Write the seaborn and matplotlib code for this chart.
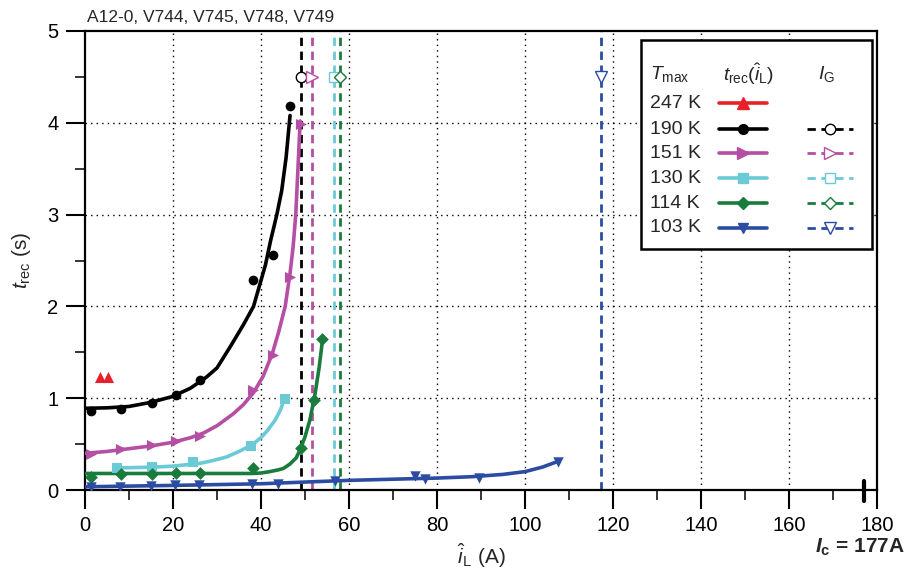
import numpy as np
import pandas as pd
import matplotlib
matplotlib.use("Agg")
import matplotlib.pyplot as plt
import matplotlib.transforms as mtransforms
from matplotlib.patches import Rectangle
from matplotlib.lines import Line2D
import seaborn as sns

# ---- measured recovery times t_rec vs peak current i_L ----
temps = ["247 K", "190 K", "151 K", "130 K", "114 K", "103 K"]
colors = ["#e8202a", "#000000", "#b44fa3", "#6cc9d6", "#1a7c3c", "#2b4ca0"]
markers = ["^", "o", ">", "s", "D", "v"]

red_x = [3.3, 5.2]
red_y = [1.23, 1.23]

black_x = [1.3, 8.2, 15.2, 20.6, 26.2, 38.2, 42.7, 46.5]
black_y = [0.86, 0.88, 0.95, 1.03, 1.20, 2.29, 2.56, 4.18]
black_fit_x = [0, 5, 10, 15, 20, 24, 27.6, 30, 33, 36, 38.3, 39.8, 41, 42.2, 43.6, 44.7, 45.7, 46.6]
black_fit_y = [0.89, 0.895, 0.91, 0.955, 1.02, 1.11, 1.23, 1.33, 1.56, 1.80, 2.00, 2.25, 2.45, 2.72, 3.00, 3.26, 3.62, 4.08]

magenta_x = [1.3, 8.2, 15.2, 20.6, 26.2, 38.2, 42.8, 46.5, 49.2]
magenta_y = [0.39, 0.445, 0.49, 0.53, 0.59, 1.09, 1.47, 2.32, 3.99]
magenta_fit_x = [0, 5, 10, 15, 20, 24, 26.9, 30, 33.7, 36, 38.3, 40.5, 42.6, 44, 45.5, 46.6, 47.3, 47.9, 48.4, 48.9]
magenta_fit_y = [0.40, 0.42, 0.45, 0.48, 0.52, 0.57, 0.62, 0.70, 0.83, 0.93, 1.06, 1.24, 1.49, 1.72, 2.00, 2.36, 2.65, 3.00, 3.50, 4.02]

cyan_x = [7.2, 15.2, 24.6, 37.7, 45.4]
cyan_y = [0.24, 0.25, 0.30, 0.48, 0.99]
cyan_fit_x = [7.2, 12, 16, 20, 24, 26.1, 29, 32.2, 35, 37.9, 40, 41.5, 43.2, 44.4, 45.4]
cyan_fit_y = [0.24, 0.245, 0.25, 0.26, 0.28, 0.29, 0.32, 0.36, 0.42, 0.49, 0.57, 0.65, 0.76, 0.87, 1.0]

green_x = [1.3, 8.2, 15.2, 20.6, 26.2, 38.2, 49.2, 52.1, 53.9]
green_y = [0.145, 0.17, 0.17, 0.18, 0.18, 0.24, 0.46, 0.98, 1.64]
green_fit_x = [0, 10, 20, 30, 38, 40, 42, 44, 45.1, 46.5, 48, 49.0, 50, 51.1, 52.3, 53.2, 54.0]
green_fit_y = [0.18, 0.18, 0.18, 0.18, 0.18, 0.185, 0.2, 0.22, 0.235, 0.28, 0.35, 0.45, 0.58, 0.76, 1.05, 1.33, 1.64]

blue_x = [1.3, 8.0, 15.0, 20.4, 26.0, 37.9, 43.9, 56.9, 74.9, 77.3, 89.5, 107.4]
blue_y = [0.03, 0.035, 0.045, 0.05, 0.055, 0.065, 0.07, 0.10, 0.15, 0.12, 0.135, 0.31]
blue_fit_x = [0, 20, 40, 60, 80, 88, 95, 100, 104, 107.4]
blue_fit_y = [0.035, 0.05, 0.068, 0.105, 0.13, 0.145, 0.17, 0.20, 0.25, 0.31]

# I_G currents (dashed verticals) for 190, 151, 130, 114, 103 K
ig_values = [49.2, 51.6, 56.6, 58.0, 117.2]
ig_marker_y = 4.5
ig_markers = ["o", ">", "s", "D", "v"]
ig_sizes = [7.5, 8, 7, 6.5, 8]

ic_value = 177

# ---- style ----
sns.set_theme(style="ticks")
plt.rcParams["font.family"] = ["Liberation Sans", "DejaVu Sans"]
plt.rcParams["mathtext.fontset"] = "custom"
plt.rcParams["mathtext.rm"] = "Liberation Sans"
plt.rcParams["mathtext.it"] = "Liberation Sans:italic"
plt.rcParams["mathtext.bf"] = "Liberation Sans:bold"
plt.rcParams["mathtext.bfit"] = "Liberation Sans:italic:bold"

fig = plt.figure(figsize=(9.07, 5.72), dpi=100)
ax = fig.add_axes([85 / 907, 82 / 572, 792 / 907, 459 / 572])

# grid
for gx in range(20, 180, 20):
    ax.axvline(gx, color="black", lw=1.0, ls=(0, (1, 3)), zorder=1)
for gy in range(1, 5):
    ax.axhline(gy, color="black", lw=1.0, ls=(0, (1, 3)), zorder=1)

# I_G dashed lines with open markers
ig_colors = colors[1:]
for xv, c, m, ms in zip(ig_values, ig_colors, ig_markers, ig_sizes):
    ax.axvline(xv, color=c, lw=2.0, ls=(0, (3, 2)), zorder=2)
    ax.plot([xv], [ig_marker_y], marker=m, ms=ms, mfc="white",
            mec=c, mew=1.0, ls="none", zorder=5)

# fit curves and measured points
series = [
    (black_x, black_y, black_fit_x, black_fit_y, colors[1], markers[1], 7),
    (magenta_x, magenta_y, magenta_fit_x, magenta_fit_y, colors[2], markers[2], 8),
    (cyan_x, cyan_y, cyan_fit_x, cyan_fit_y, colors[3], markers[3], 6.5),
    (green_x, green_y, green_fit_x, green_fit_y, colors[4], markers[4], 6.5),
    (blue_x, blue_y, blue_fit_x, blue_fit_y, colors[5], markers[5], 7.5),
]
for px, py, fx, fy, c, m, ms in series:
    fit_df = pd.DataFrame({"i": fx, "t": fy})
    sns.lineplot(data=fit_df, x="i", y="t", ax=ax, color=c, lw=2.6, sort=False,
                 estimator=None, zorder=3)
    pts = pd.DataFrame({"i": px, "t": py})
    sns.scatterplot(data=pts, x="i", y="t", ax=ax, color=c, marker=m, s=ms ** 2,
                    edgecolor=c, linewidth=0, zorder=4)

red_df = pd.DataFrame({"i": red_x, "t": red_y})
sns.scatterplot(data=red_df, x="i", y="t", ax=ax, color=colors[0], marker="^",
                s=64, edgecolor=colors[0], linewidth=0, zorder=4)

# axes
ax.set_xlim(0, 180)
ax.set_ylim(0, 5)
ax.set_xticks(np.arange(0, 181, 20))
ax.set_xticks(np.arange(10, 180, 20), minor=True)
ax.set_yticks(np.arange(0, 6, 1))
ax.set_yticks(np.arange(0.5, 5, 1), minor=True)
ax.tick_params(axis="both", which="major", length=14, width=1.5, direction="out",
               labelsize=14.5, colors="black", pad=5)
ax.tick_params(axis="both", which="minor", length=7, width=1.3, direction="out")
for s in ax.spines.values():
    s.set_visible(True)
    s.set_linewidth(1.6)
    s.set_color("black")

ax.set_xlabel(r"$\hat{i}_{\mathrm{L}}$ (A)", fontsize=15, labelpad=4)
ax.set_ylabel(r"$t_{\mathrm{rec}}$ (s)", fontsize=15, labelpad=10)

ax.text(0.002, 1.012, "A12-0, V744, V745, V748, V749", transform=ax.transAxes,
        fontsize=12.5, ha="left", va="bottom")

# critical current marker on the current axis
trans = mtransforms.blended_transform_factory(ax.transData, ax.transAxes)
ax.plot([ic_value, ic_value], [0.02, -0.024], color="black", lw=3, transform=trans,
        clip_on=False, zorder=6)
fig.text(905 / 907, 1 - 553 / 572, r"$\mathbfit{I}_{\mathbf{c}}$ = 177A",
         fontsize=15, fontweight="bold", ha="right", va="baseline")

# legend drawn as a table in axes coordinates
ax.add_patch(Rectangle((0.702, 0.524), 0.2917, 0.456, transform=ax.transAxes,
                       facecolor="white", edgecolor="black", lw=1.8, zorder=8))
ax.text(0.713, 0.906, r"$T_{\mathrm{max}}$", transform=ax.transAxes, fontsize=14,
        va="center", ha="left", zorder=9)
ax.text(0.806, 0.906, r"$t_{\mathrm{rec}}(\hat{i}_{\mathrm{L}})$", transform=ax.transAxes,
        fontsize=14, va="center", ha="left", zorder=9)
ax.text(0.925, 0.906, r"$I_{\mathrm{G}}$", transform=ax.transAxes, fontsize=14,
        va="center", ha="left", zorder=9)
row_y = [0.843, 0.786, 0.734, 0.679, 0.625, 0.571]
leg_ms = [8, 7, 8, 6.5, 6.5, 7.5]
for k, (lab, c, m, ry) in enumerate(zip(temps, colors, markers, row_y)):
    ax.text(0.713, ry, lab, transform=ax.transAxes, fontsize=14, va="center",
            ha="left", zorder=9)
    ax.add_line(Line2D([0.800, 0.861], [ry, ry], transform=ax.transAxes, color=c,
                       lw=2.6, zorder=9))
    ax.add_line(Line2D([0.8305], [ry], transform=ax.transAxes, color=c, marker=m,
                       ms=leg_ms[k], mec=c, ls="none", zorder=10))
    if k > 0:
        ax.add_line(Line2D([0.912, 0.970], [ry, ry], transform=ax.transAxes, color=c,
                           lw=2.0, ls=(0, (3, 2)), zorder=9))
        ax.add_line(Line2D([0.941], [ry], transform=ax.transAxes, color=c,
                           marker=ig_markers[k - 1], ms=ig_sizes[k - 1], mfc="white",
                           mec=c, mew=1.0, ls="none", zorder=10))

fig.savefig("out.png", dpi=100)
